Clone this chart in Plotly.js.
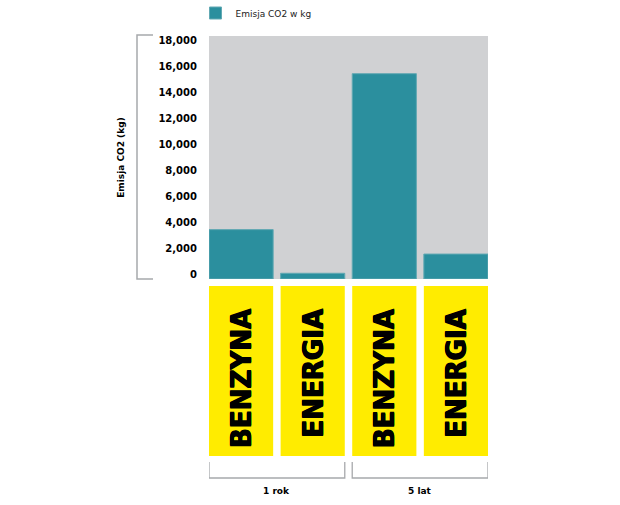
<!DOCTYPE html>
<html>
<head>
<meta charset="utf-8">
<script src="https://cdn.plot.ly/plotly-3.0.1.min.js"></script>
<style>html,body{margin:0;padding:0;background:#fff;}#chart{width:620px;height:505px;}</style>
</head>
<body>
<div id="chart"></div>
<script>
// ---- data ----
const periods = ['1 rok', '1 rok', '5 lat', '5 lat'];
const fuels = ['BENZYNA', 'ENERGIA', 'BENZYNA', 'ENERGIA'];
const emissions = [3800, 440, 15800, 1920];
const seriesName = 'Emisja CO2 w kg';
const yTitle = 'Emisja CO2 (kg)';

// ---- style ----
const TEAL = '#2b8f9e';
const GRAY_BG = '#d0d1d3';
const YELLOW = '#ffec00';
const BRACKET = '#a7a9ac';
const barWidth = 0.896;

// plot area in px (for converting paper coordinates)
const W = 620, H = 505;
const M = {l: 209, r: 132, t: 36, b: 226, autoexpand: false};
const plotH = H - M.t - M.b;
const plotW = W - M.l - M.r;
const py = px => (H - M.b - px) / plotH;   // pixel row -> paper y
const pxX = px => (px - M.l) / plotW;       // pixel col -> paper x

const xIdx = fuels.map((_, i) => i);

const trace = {
  type: 'bar',
  x: xIdx,
  y: emissions,
  name: seriesName,
  width: barWidth,
  marker: {color: TEAL, line: {color: '#62a9b3', width: 1}},
  hoverinfo: 'y',
  showlegend: true
};

const shapes = [];
const annotations = [];

// yellow category boxes + rotated labels
xIdx.forEach((i) => {
  shapes.push({
    type: 'rect', xref: 'x', yref: 'paper',
    x0: i - barWidth / 2, x1: i + barWidth / 2,
    y0: py(456), y1: py(286),
    fillcolor: YELLOW, line: {width: 0}
  });
  annotations.push({
    xref: 'x', yref: 'paper', x: i, y: py(306),
    xanchor: 'center', yanchor: 'top',
    text: '<b>' + fuels[i] + '</b>', textangle: -90, showarrow: false,
    font: {
      family: 'DejaVu Sans Condensed, sans-serif', size: 29, color: '#000',
      shadow: '0.7px 0 0 #000, -0.7px 0 0 #000'
    }
  });
});

// group brackets and labels
const groups = [...new Set(periods)];
groups.forEach(g => {
  const idx = xIdx.filter(i => periods[i] === g);
  const a = Math.min(...idx) - barWidth / 2;
  const b = Math.max(...idx) + barWidth / 2;
  const yt = py(462), yb = py(478);
  shapes.push({
    type: 'path', xref: 'x', yref: 'paper',
    path: `M${a},${yt} L${a},${yb} L${b},${yb} L${b},${yt}`,
    line: {color: BRACKET, width: 1.3}
  });
  annotations.push({
    xref: 'x', yref: 'paper', x: (Math.min(...idx) + Math.max(...idx)) / 2, y: py(491),
    xanchor: 'center', yanchor: 'middle', showarrow: false,
    text: '<b>' + g + '</b>',
    font: {family: 'DejaVu Sans', size: 9, color: '#000'}
  });
});

// y-axis bracket
shapes.push({
  type: 'path', xref: 'paper', yref: 'paper',
  path: `M${pxX(153)},${py(35)} L${pxX(137)},${py(35)} L${pxX(137)},${py(279)} L${pxX(153)},${py(279)}`,
  line: {color: BRACKET, width: 1.5}
});

const layout = {
  width: W, height: H,
  margin: M,
  paper_bgcolor: '#ffffff',
  plot_bgcolor: GRAY_BG,
  bargap: 1 - barWidth,
  showlegend: true,
  legend: {
    orientation: 'h', x: pxX(195.5), xanchor: 'left', y: py(13), yanchor: 'middle',
    font: {family: 'DejaVu Sans', size: 9, color: '#222'},
    bgcolor: 'rgba(0,0,0,0)', itemclick: false, itemdoubleclick: false
  },
  xaxis: {
    range: [-barWidth / 2, xIdx.length - 1 + barWidth / 2],
    showticklabels: false, showgrid: false, zeroline: false, showline: false, ticks: '',
    fixedrange: true
  },
  yaxis: {
    range: [0, 18700], dtick: 2000, tickformat: ',d',
    showgrid: false, zeroline: false, showline: false, ticks: '',
    ticklabelshift: -5, ticklabelstandoff: 11,
    tickfont: {family: 'DejaVu Sans', size: 10, color: '#000', weight: 'bold'},
    title: {text: '<b>' + yTitle + '</b>', standoff: 32, font: {family: 'DejaVu Sans', size: 9, color: '#000'}},
    fixedrange: true
  },
  shapes: shapes,
  annotations: annotations
};

Plotly.newPlot('chart', [trace], layout, {displayModeBar: false, staticPlot: true});
</script>
</body>
</html>
